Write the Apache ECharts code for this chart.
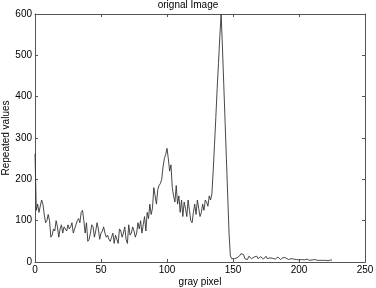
<!DOCTYPE html>
<html>
<head>
<meta charset="utf-8">
<script src="https://cdn.jsdelivr.net/npm/echarts@6/dist/echarts.min.js"></script>
<style>html,body{margin:0;padding:0;background:#fff}#c{width:376px;height:288px}</style>
</head>
<body>
<div id="c"></div>
<script>
var titleText = 'orignal Image';
var xName = 'gray pixel';
var yName = 'Repeated values';
var xTicks = [0, 50, 100, 150, 200, 250];
var yTicks = [0, 100, 200, 300, 400, 500, 600];
// histogram counts for gray levels 0..225
var counts = [
262,125,140,120,135,150,140,115,95,100,
115,100,60,65,80,75,100,85,60,80,
90,70,85,80,75,90,80,85,95,70,
80,90,100,105,95,120,125,100,70,95,
50,55,70,90,85,60,75,95,80,55,
70,75,85,70,60,65,55,50,60,70,
45,65,55,45,80,75,60,70,85,55,
45,90,65,70,85,75,60,70,95,80,
100,70,90,110,75,120,105,140,115,130,
180,160,140,175,185,190,200,230,250,260,
275,250,220,235,180,160,145,185,140,160,
120,150,110,145,130,110,150,125,100,95,
120,140,115,150,130,110,120,140,125,150,
145,135,160,150,165,220,285,350,420,480,
545,600,520,430,340,250,160,70,15,8,
10,8,12,10,7,15,20,22,18,8,
10,6,14,16,8,6,12,10,14,8,
9,13,12,7,10,14,8,6,10,12,
9,11,7,10,12,8,6,9,11,7,
10,8,6,9,8,5,7,9,6,8,
5,7,6,8,5,6,7,5,4,6,
5,4,6,5,4,5,4,5,4,5,
4,5,3,4,5,4
];
var pts = counts.map(function(v, i){ return [i, v]; });

var chart = echarts.init(document.getElementById('c'), null, {renderer:'canvas'});
var axCol = '#555';
var fnt = 'Liberation Sans, Arial, sans-serif';
function xAx(pos, labels){
  return {
    type:'value', position:pos, min:xTicks[0], max:xTicks[xTicks.length-1], interval:50,
    name: labels ? xName : '', nameLocation:'middle', nameGap:15, nameMoveOverlap:false,
    nameTextStyle:{color:'#000', fontSize:10, fontFamily:fnt},
    axisLine:{show:true, onZero:false, lineStyle:{color:axCol, width:1}},
    axisTick:{show:true, inside:true, length:3, lineStyle:{color:axCol}},
    axisLabel:{show:labels, color:'#000', fontSize:10, fontFamily:fnt, margin:3},
    splitLine:{show:false}
  };
}
function yAx(pos, labels){
  return {
    type:'value', position:pos, min:yTicks[0], max:yTicks[yTicks.length-1], interval:100,
    name: labels ? yName : '', nameLocation:'middle', nameGap:24, nameMoveOverlap:false,
    nameTextStyle:{color:'#000', fontSize:10, fontFamily:fnt},
    axisLine:{show:true, onZero:false, lineStyle:{color:axCol, width:1}},
    axisTick:{show:true, inside:true, length:3, lineStyle:{color:axCol}},
    axisLabel:{show:labels, color:'#000', fontSize:10, fontFamily:fnt, margin:3},
    splitLine:{show:false}
  };
}
chart.setOption({
  animation:false,
  backgroundColor:'#fff',
  title:{text:titleText, left:'center', top:0, padding:0, textStyle:{fontSize:10, fontWeight:'normal', color:'#000', fontFamily:fnt}},
  grid:{left:35, right:11, top:14, bottom:26, containLabel:false, outerBoundsMode:'none'},
  xAxis:[xAx('bottom', true), xAx('top', false)],
  yAxis:[yAx('left', true), yAx('right', false)],
  series:[{
    type:'line', data:pts, xAxisIndex:0, yAxisIndex:0,
    showSymbol:false, clip:true,
    lineStyle:{color:'#333', width:0.9}
  }]
});
</script>
</body>
</html>
